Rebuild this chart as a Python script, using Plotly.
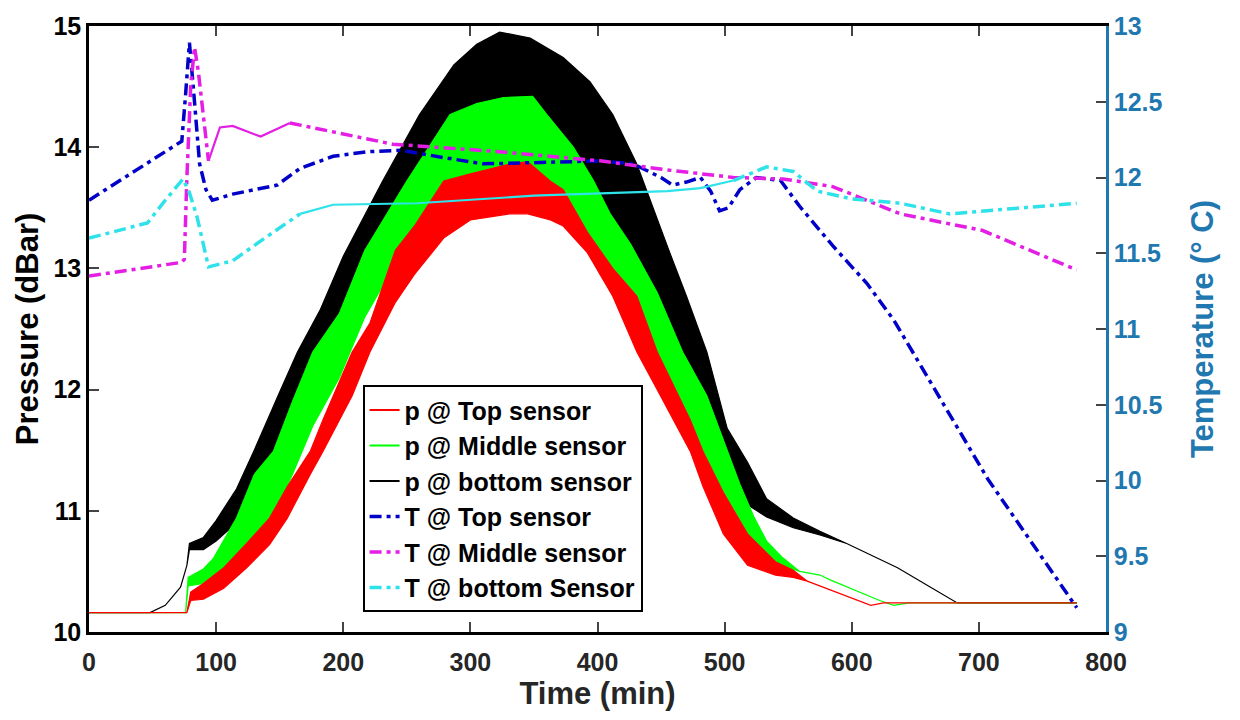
import plotly.graph_objects as go

# ---------------- data ----------------
# Pressure records oscillate densely; each is kept as an upper / lower envelope.
# p @ bottom sensor (black)
pb_x  = [0, 48, 60, 72, 77, 79, 90, 100, 116, 130, 150, 164, 182, 200, 231, 260, 287, 305, 323,
         347, 373, 394, 412, 431, 455, 470, 486, 502, 518, 533, 554, 575, 596, 636, 662, 683, 777]
pb_hi = [10.16, 10.16, 10.22, 10.37, 10.55, 10.73, 10.78, 10.92, 11.18, 11.5, 11.98, 12.31, 12.66, 13.1, 13.72, 14.27, 14.68, 14.85, 14.95,
         14.9, 14.74, 14.54, 14.27, 13.86, 13.18, 12.77, 12.31, 11.68, 11.4, 11.1, 10.94, 10.83, 10.73, 10.53, 10.37, 10.24, 10.24]
pb_lo = [10.16, 10.16, 10.22, 10.37, 10.55, 10.68, 10.68, 10.75, 10.9, 11.05, 11.4, 11.7, 12.1, 12.5, 13.0, 13.5, 13.9, 14.0, 14.1,
         14.1, 13.9, 13.5, 13.2, 12.9, 12.5, 12.1, 11.7, 11.3, 11.05, 10.95, 10.86, 10.8, 10.73, 10.53, 10.37, 10.24, 10.24]

# p @ Middle sensor (green)
pm_x  = [0, 76, 78, 90, 98, 116, 130, 145, 160, 176, 197, 217, 250, 284, 305, 326, 349, 360, 381, 397, 410,
         426, 447, 467, 486, 502, 512, 523, 533, 545, 559, 575, 583, 622, 633, 645, 777]
pm_hi = [10.16, 10.16, 10.45, 10.52, 10.61, 10.94, 11.3, 11.49, 11.9, 12.31, 12.63, 13.15, 13.72, 14.27, 14.36, 14.41, 14.42, 14.27, 14.0, 13.72, 13.45,
         13.2, 12.8, 12.31, 11.95, 11.49, 11.22, 10.95, 10.75, 10.62, 10.5, 10.47, 10.43, 10.26, 10.22, 10.24, 10.24]
pm_lo = [10.16, 10.16, 10.38, 10.4, 10.42, 10.55, 10.75, 10.95, 11.3, 11.7, 12.1, 12.6, 13.2, 13.5, 13.6, 13.65, 13.65, 13.6, 13.4, 13.2, 13.0,
         12.7, 12.2, 11.8, 11.3, 11.0, 10.8, 10.65, 10.55, 10.55, 10.5, 10.47, 10.43, 10.26, 10.22, 10.24, 10.24]

# p @ Top sensor (red)
pt_x  = [0, 77, 80, 90, 106, 124, 142, 156, 174, 184, 207, 221, 241, 256, 279, 300, 331, 345, 363, 373, 392,
         402, 412, 431, 447, 473, 483, 499, 518, 540, 554, 565, 590, 615, 625, 777]
pt_hi = [10.16, 10.16, 10.33, 10.4, 10.53, 10.73, 10.94, 11.2, 11.49, 11.75, 12.31, 12.55, 13.15, 13.35, 13.72, 13.78, 13.86, 13.88, 13.72, 13.65, 13.3,
         13.15, 13.0, 12.77, 12.31, 11.75, 11.49, 11.15, 10.81, 10.58, 10.51, 10.42, 10.32, 10.22, 10.24, 10.24]
pt_lo = [10.16, 10.16, 10.26, 10.27, 10.36, 10.53, 10.72, 10.94, 11.3, 11.49, 11.95, 12.31, 12.72, 12.95, 13.25, 13.4, 13.45, 13.45, 13.4, 13.35, 13.13,
         12.95, 12.77, 12.31, 12.0, 11.49, 11.2, 10.81, 10.55, 10.47, 10.45, 10.42, 10.32, 10.22, 10.24, 10.24]

# Temperatures (deg C)
tt_x = [0, 73, 76, 79, 82, 87, 92, 97, 113, 148, 166, 192, 219, 245, 280, 310, 360, 402, 428, 450, 459,
        470, 481, 489, 496, 503, 512, 525, 544, 559, 585, 612, 633, 707, 777]
tt_y = [11.85, 12.24, 12.55, 12.89, 12.6, 12.09, 11.92, 11.85, 11.89, 11.95, 12.06, 12.14, 12.17, 12.18, 12.13, 12.09, 12.1, 12.11, 12.09, 12.0, 11.95,
        11.97, 12.0, 11.91, 11.78, 11.8, 11.92, 12.0, 11.98, 11.81, 11.55, 11.30, 11.06, 10.01, 9.16]

tm_x = [0, 73, 75, 77, 80, 83, 86, 90, 94, 103, 113, 135, 158, 192, 239, 323, 402, 455, 507, 546, 585, 638, 703, 777]
tm_y = [11.35, 11.44, 11.46, 12.0, 12.6, 12.86, 12.7, 12.4, 12.11, 12.33, 12.34, 12.27, 12.36, 12.30, 12.22, 12.17, 12.11, 12.05, 12.0, 11.99, 11.94, 11.76, 11.65, 11.39]

tb_x = [0, 46, 60, 74, 79, 85, 94, 113, 140, 166, 192, 258, 350, 455, 481, 507, 533, 554, 573, 599, 638, 677, 777]
tb_y = [11.60, 11.70, 11.85, 11.99, 11.9, 11.74, 11.41, 11.45, 11.61, 11.76, 11.82, 11.83, 11.88, 11.91, 11.93, 11.98, 12.07, 12.04, 11.91, 11.86, 11.83, 11.76, 11.83]

names_p = ["p @ Top sensor", "p @ Middle sensor", "p @ bottom sensor"]
names_t = ["T @ Top sensor", "T @ Middle sensor", "T @ bottom Sensor"]

x_ticks = [0, 100, 200, 300, 400, 500, 600, 700, 800]
yp_ticks = [10, 11, 12, 13, 14, 15]
yt_ticks = [9, 9.5, 10, 10.5, 11, 11.5, 12, 12.5, 13]

# ---------------- styles ----------------
RED, GREEN, BLACK = "#FF0000", "#00FF00", "#000000"
BLUE, MAGENTA, CYAN = "#0000C8", "#E41EE4", "#2EE2EA"
AX2 = "#1F78B0"
DASHDOT = "12px,5px,4px,5px"
# x-ranges in which the densely sampled temperature record renders as a solid line
SOLID_RANGES = {"mag": (94, 158), "cyan": (166, 507)}

fig = go.Figure()


def band(xs, hi, lo, color):
    fig.add_trace(go.Scatter(
        x=list(xs) + list(xs)[::-1], y=list(hi) + list(lo)[::-1],
        mode="lines", fill="toself", fillcolor=color,
        line=dict(color=color, width=1.2), showlegend=False, hoverinfo="skip"))


# draw order: bottom sensor first, top sensor last (on top)
band(pb_x, pb_hi, pb_lo, BLACK)
band(pm_x, pm_hi, pm_lo, GREEN)
band(pt_x, pt_hi, pt_lo, RED)

for name, col in zip(names_p, [RED, GREEN, BLACK]):
    fig.add_trace(go.Scatter(x=[None], y=[None], mode="lines", name=name,
                             line=dict(color=col, width=2)))


def split(xs, ys, rng):
    if rng is None:
        return [(xs, ys, False)]
    a, b = rng
    i = xs.index(a)
    j = xs.index(b)
    return [(xs[:i + 1], ys[:i + 1], False), (xs[i:j + 1], ys[i:j + 1], True), (xs[j:], ys[j:], False)]


for name, col, xs, ys, rng in [
    (names_t[0], BLUE, tt_x, tt_y, None),
    (names_t[1], MAGENTA, tm_x, tm_y, SOLID_RANGES["mag"]),
    (names_t[2], CYAN, tb_x, tb_y, SOLID_RANGES["cyan"]),
]:
    first = True
    for sx, sy, solid in split(xs, ys, rng):
        fig.add_trace(go.Scatter(
            x=sx, y=sy, yaxis="y2", mode="lines", name=name, legendgroup=name,
            showlegend=first,
            line=dict(color=col, width=2.2 if solid else 3.5, dash="solid" if solid else DASHDOT)))
        first = False

FONT = "Liberation Sans, Arial, sans-serif"

fig.update_layout(
    width=1240, height=720,
    margin=dict(l=89, r=134, t=20, b=88),
    paper_bgcolor="white", plot_bgcolor="white",
    font=dict(family=FONT, size=25, color="black", weight="bold"),
    showlegend=True,
    legend=dict(x=0.269, y=0.407, xanchor="left", yanchor="top",
                bgcolor="white", bordercolor="black", borderwidth=2,
                font=dict(size=25, color="black", weight="bold"),
                tracegroupgap=0, itemwidth=30),
    xaxis=dict(range=[0, 800], tickvals=x_ticks, ticks="inside", ticklen=10, tickwidth=2,
               showline=True, linecolor="black", linewidth=2.5, mirror="ticks",
               showgrid=False, zeroline=False, ticklabelstandoff=6,
               tickfont=dict(size=25, color="#262626", weight="bold"),
               title=dict(text="Time (min)", font=dict(size=31, color="#262626", weight="bold"), standoff=2)),
    yaxis=dict(range=[10, 15], tickvals=yp_ticks, ticks="inside", ticklen=10, tickwidth=2,
               showline=True, linecolor="black", linewidth=2.5,
               showgrid=False, zeroline=False,
               tickfont=dict(size=25, color="black", weight="bold"),
               title=dict(text="Pressure (dBar)", font=dict(size=31, color="black", weight="bold"), standoff=6)),
    yaxis2=dict(range=[9, 13], tickvals=yt_ticks, overlaying="y", side="right",
                ticks="inside", ticklen=10, tickwidth=2,
                showline=True, linecolor=AX2, linewidth=2.5,
                showgrid=False, zeroline=False,
                tickfont=dict(size=25, color=AX2, weight="bold"),
                title=dict(text="Temperature (° C)", font=dict(size=31, color=AX2, weight="bold"), standoff=30)),
)

fig.write_html("out.html", config={"displayModeBar": False},
               post_script="document.body.style.margin='0';")
